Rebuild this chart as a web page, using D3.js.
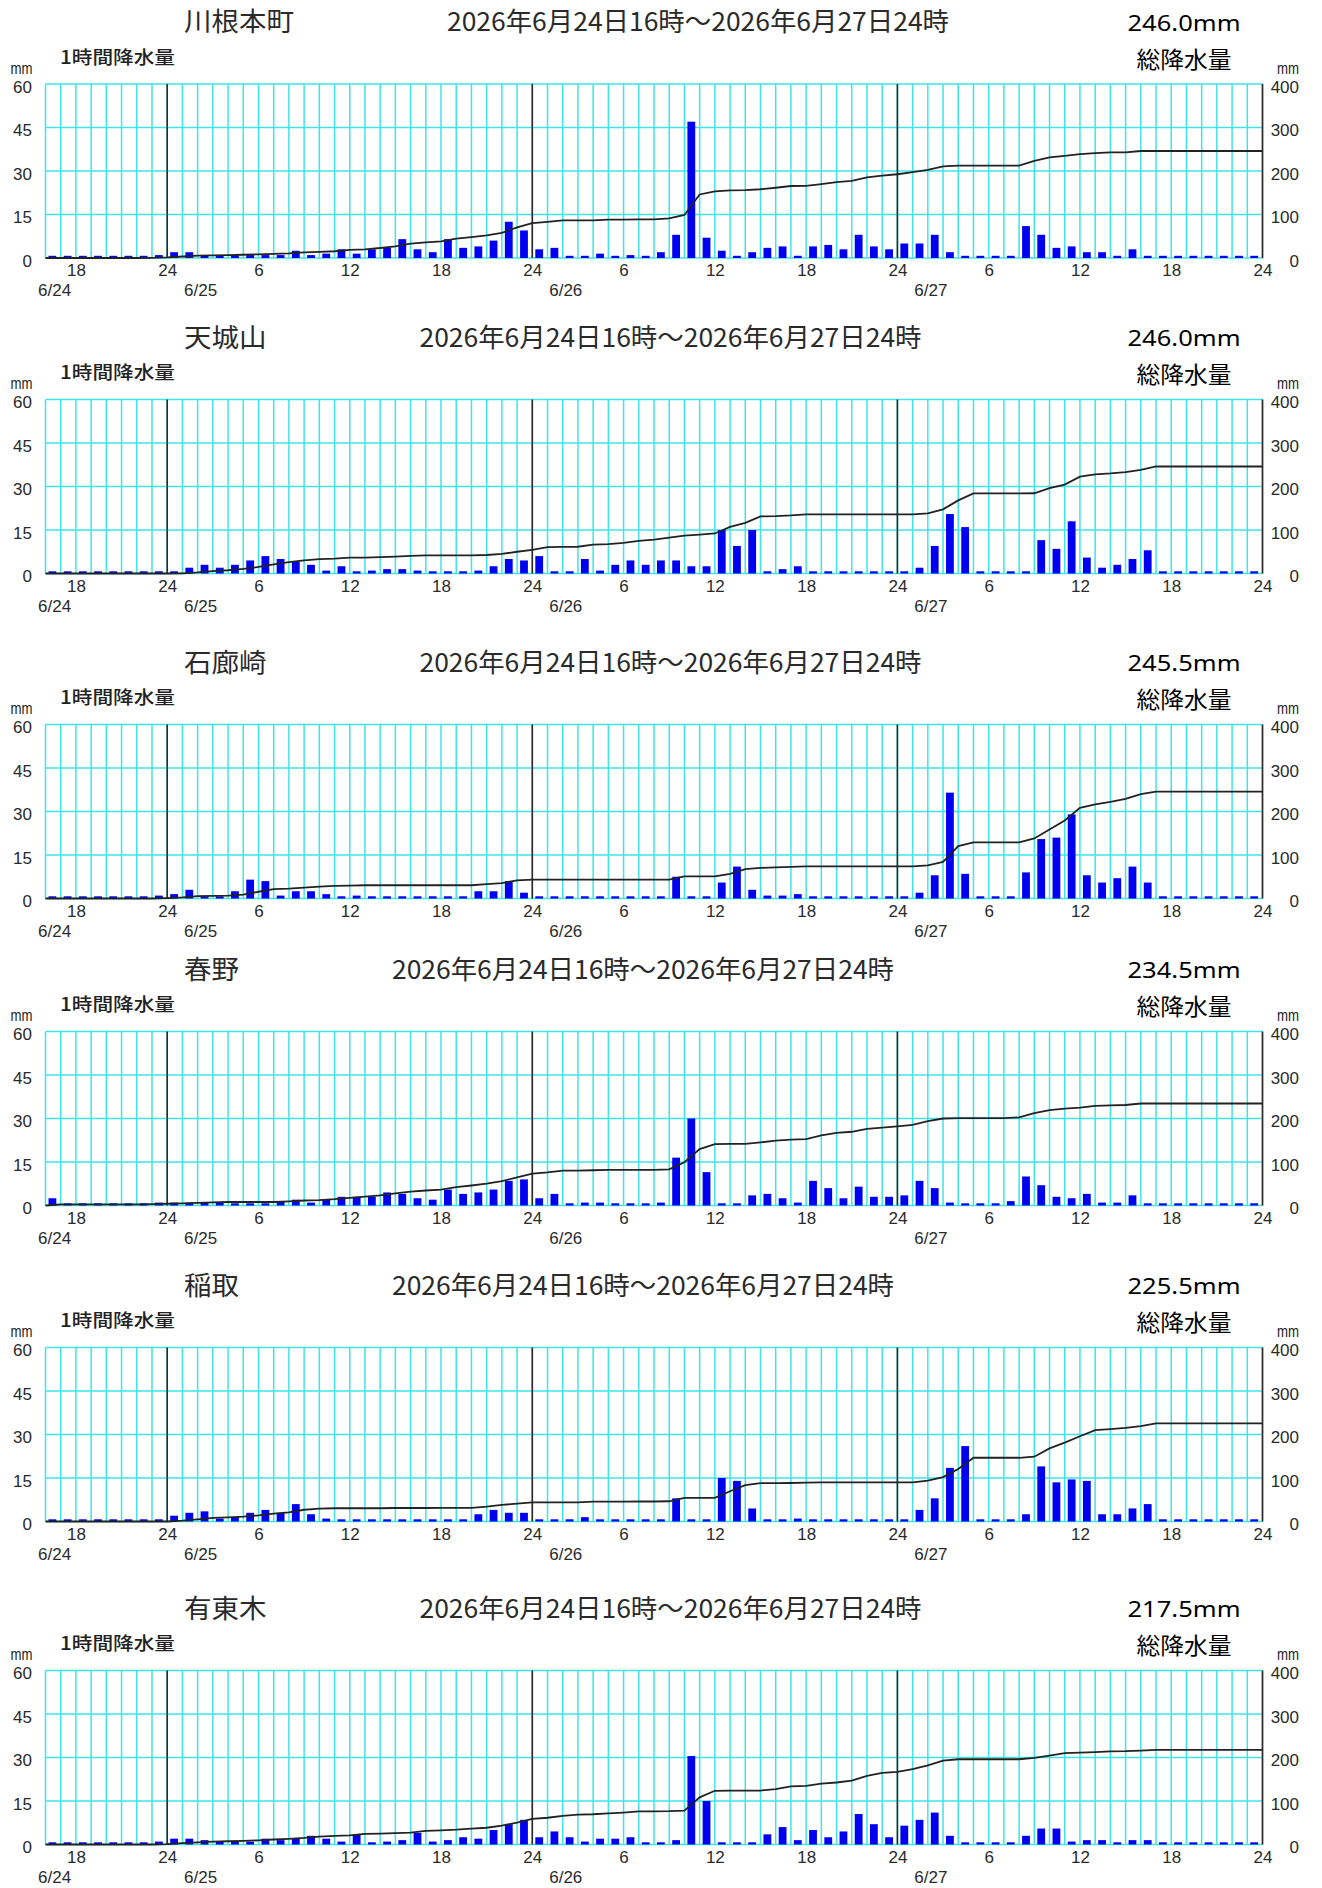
<!DOCTYPE html>
<html lang="ja">
<head>
<meta charset="utf-8">
<script src="https://cdn.jsdelivr.net/npm/d3@7"></script>
<style>
  body { margin: 0; background: #fff; }
  svg { display: block; }
</style>
</head>
<body>
<div id="chart"></div>
<script>
const width = 1322
const height = 1888

// DATA
const stations = ["川根本町", "天城山", "石廊崎", "春野", "稲取", "有東木"]
const totals = ["246.0mm", "246.0mm", "245.5mm", "234.5mm", "225.5mm", "217.5mm"]
const period = "2026年6月24日16時～2026年6月27日24時"
const hourTicks = [2, 8, 14, 20, 26, 32, 38, 44, 50, 56, 62, 68, 74, 80]
const hourLabels = ["18", "24", "6", "12", "18", "24", "6", "12", "18", "24", "6", "12", "18", "24"]
const dayBreaks = [8, 32, 56]
const dateLabels = ["6/24", "6/25", "6/26", "6/27"]
const datePos = [0.6, 10.2, 34.2, 58.2]
const leftTicks = [0, 15, 30, 45, 60]
const rightTicks = [0, 100, 200, 300, 400]

// hourly rain in mm, one value per hour from 6/24 16-17h to 6/27 23-24h
const kawanehoncho = [
  0, 0, 0, 0, 0, 0, 0.5, 1,
  2, 2, 0.5, 0.5, 1, 1, 1, 1,
  2.5, 1, 1.5, 3, 1.5, 3, 3.5, 6.5,
  3, 2, 6.5, 3.5, 4, 6, 12.5, 9.5,
  3, 3.5, 0, 0, 1.5, 0, 1, 0,
  2, 8, 47, 7, 2.5, 0.5, 2, 3.5,
  4, 0.5, 4, 4.5, 3, 8, 4, 3,
  5, 5, 8, 2, 0, 0, 0, 0,
  11, 8, 3.5, 4, 2, 2, 0, 3,
  0, 0, 0, 0, 0, 0, 0, 0
]
const amagisan = [
  0, 0, 0, 0, 0, 0, 0, 0,
  0.5, 2, 3, 2, 3, 4.5, 6, 5,
  4, 3, 1, 2.5, 0, 1, 1.5, 1.5,
  1, 0, 0, 0, 1, 2.5, 5, 4.5,
  6, 0.5, 0.5, 5, 1, 3, 4.5, 3,
  4.5, 4.5, 2.5, 2.5, 15, 9.5, 15, 0.5,
  1.5, 2.5, 0, 0, 0, 0, 0, 0,
  0, 2, 9.5, 20.5, 16, 0, 0, 0,
  0.5, 11.5, 8.5, 18, 5.5, 2, 3, 5,
  8, 0, 0, 0, 0, 0, 0, 0
]
const irozaki = [
  0, 0, 0, 0, 0, 0, 0, 1,
  1.5, 3, 0.5, 0.5, 2.5, 6.5, 6, 1,
  2.5, 2.5, 1.5, 0.5, 1, 0, 0, 0,
  0, 0, 0, 0, 2.5, 2.5, 6, 2,
  0, 0, 0, 0, 0, 0, 0, 0,
  0, 7.5, 0, 0, 5.5, 11, 3, 1,
  1, 1.5, 0, 0, 0, 0, 0, 0,
  0, 2, 8, 36.5, 8.5, 0, 0, 0,
  9, 20.5, 21, 29, 8, 5.5, 7, 11,
  5.5, 0, 0, 0, 0, 0, 0, 0
]
const haruno = [
  2.5, 0, 0, 0, 0, 0, 0.5, 1,
  1, 1, 1, 1, 0, 0, 0, 1.5,
  2, 1, 2, 3, 3, 3, 4.5, 4,
  2.5, 2, 5.5, 4, 4.5, 5.5, 8.5, 9,
  2.5, 4, 0, 1, 1, 0, 0, 0,
  1, 16.5, 30, 11.5, 0.5, 0, 3.5, 4,
  2.5, 1, 8.5, 6, 2.5, 6.5, 3, 3,
  3.5, 8.5, 6, 1, 0, 0, 0, 1.5,
  10, 7, 3, 2.5, 4, 1, 1, 3.5,
  0, 0, 0, 0, 0, 0, 0, 0
]
const inatori = [
  0, 0, 0, 0, 0, 0, 0, 0,
  2, 3, 3.5, 1, 1.5, 3, 4, 3,
  6, 2.5, 1, 0, 0, 0, 0.5, 0,
  0, 0.5, 0, 0, 2.5, 4, 3, 3,
  0, 0, 0, 1.5, 0, 0, 0.5, 0,
  0.5, 8, 0, 0, 15, 14, 4.5, 0,
  0.5, 1, 0.5, 0, 0, 0, 0, 0,
  0, 4, 8, 18.5, 26, 0, 0, 0,
  2.5, 19, 13.5, 14.5, 14, 2.5, 2.5, 4.5,
  6, 0, 0, 0, 0, 0, 0, 0
]
const utougi = [
  0, 0, 0, 0, 0, 0, 0, 1,
  2, 2, 1.5, 1, 1, 1, 2, 1.5,
  2, 3, 2, 1, 3.5, 0.5, 1, 1.5,
  4, 1, 1.5, 2.5, 2, 5, 7, 8.5,
  2.5, 4.5, 2.5, 1, 2, 2, 2.5, 0,
  0.5, 1.5, 30.5, 15, 0.5, 0, 0, 3.5,
  6, 1.5, 5, 2.5, 4.5, 10.5, 7, 2.5,
  6.5, 8.5, 11, 3, 0, 0, 0, 0,
  3, 5.5, 5.5, 1, 1.5, 1.5, 0.5, 1.5,
  1.5, 0, 0, 0, 0, 0, 0, 0
]
const series = [kawanehoncho, amagisan, irozaki, haruno, inatori, utougi]

// LAYOUT
const plotLeft = 45.5
const plotRight = 1262.5
const plotH = 174
const panelTops = [84, 399.5, 724.5, 1031.5, 1347.5, 1670.5]
const charW = 27.5

const gridColor = "#3fe4e8"
const barColor = "#0000f0"
const jpFont = "'Noto Sans CJK JP', 'Noto Sans', sans-serif"
const axisFont = "'Liberation Sans', Arial, sans-serif"

const svg = d3
  .select("#chart")
  .append("svg")
  .attr("width", width)
  .attr("height", height)
  .attr("viewBox", [0, 0, width, height])

svg.append("rect").attr("width", width).attr("height", height).attr("fill", "#fff")

const xScale = d3.scaleLinear().domain([0, 80]).range([plotLeft, plotRight])

series.forEach((values, k) => {
  const top = panelTops[k]
  const base = top + plotH
  const g = svg.append("g").attr("class", "panel")

  const yLeft = d3.scaleLinear().domain([0, 60]).range([base, top])
  const yRight = d3.scaleLinear().domain([0, 400]).range([base, top])

  // HEADER
  const nameW = stations[k].length * charW
  g.append("text")
    .attr("x", 184)
    .attr("y", top - 53)
    .attr("textLength", nameW)
    .attr("lengthAdjust", "spacingAndGlyphs")
    .style("font-family", jpFont)
    .style("font-size", "26px")
    .style("fill", "#2a2a2a")
    .text(stations[k])

  g.append("text")
    .attr("x", 184 + nameW + 153)
    .attr("y", top - 53)
    .attr("textLength", 502)
    .attr("lengthAdjust", "spacingAndGlyphs")
    .style("font-family", jpFont)
    .style("font-size", "26px")
    .style("fill", "#2a2a2a")
    .text(period)

  g.append("text")
    .attr("x", 1184)
    .attr("y", top - 53.5)
    .attr("text-anchor", "middle")
    .attr("textLength", 113)
    .attr("lengthAdjust", "spacingAndGlyphs")
    .style("font-family", "'Noto Sans', 'Open Sans', sans-serif")
    .style("font-size", "22px")
    .style("fill", "#000")
    .text(totals[k])

  g.append("text")
    .attr("x", 1184)
    .attr("y", top - 16.5)
    .attr("text-anchor", "middle")
    .attr("textLength", 95)
    .attr("lengthAdjust", "spacingAndGlyphs")
    .style("font-family", jpFont)
    .style("font-size", "23px")
    .style("fill", "#000")
    .text("総降水量")

  g.append("text")
    .attr("x", 60)
    .attr("y", top - 20.5)
    .attr("textLength", 115)
    .attr("lengthAdjust", "spacingAndGlyphs")
    .style("font-family", jpFont)
    .style("font-size", "18px")
    .style("font-weight", "500")
    .style("fill", "#222")
    .text("1時間降水量")

  ;[10.5, 1277].forEach((mx) => {
    g.append("text")
      .attr("x", mx)
      .attr("y", top - 10.5)
      .attr("textLength", 22)
      .attr("lengthAdjust", "spacingAndGlyphs")
      .style("font-family", axisFont)
      .style("font-size", "16px")
      .style("fill", "#222")
      .text("mm")
  })

  // GRID
  g.append("g")
    .selectAll("line")
    .data(d3.range(0, 81))
    .join("line")
    .attr("x1", (d) => xScale(d))
    .attr("x2", (d) => xScale(d))
    .attr("y1", yLeft(60))
    .attr("y2", yLeft(0))
    .attr("stroke", gridColor)
    .attr("stroke-width", 1.5)

  g.append("g")
    .selectAll("line")
    .data(leftTicks)
    .join("line")
    .attr("x1", plotLeft)
    .attr("x2", plotRight)
    .attr("y1", (d) => yLeft(d))
    .attr("y2", (d) => yLeft(d))
    .attr("stroke", gridColor)
    .attr("stroke-width", 1.5)

  // day boundaries + right axis
  g.append("g")
    .selectAll("line")
    .data(dayBreaks.concat([80]))
    .join("line")
    .attr("x1", (d) => xScale(d))
    .attr("x2", (d) => xScale(d))
    .attr("y1", yLeft(60))
    .attr("y2", yLeft(0))
    .attr("stroke", "#2a2a2a")
    .attr("stroke-width", 1.6)

  // BARS
  g.append("g")
    .selectAll("rect")
    .data(values)
    .join("rect")
    .attr("x", (d, i) => xScale(i) + 3)
    .attr("width", 7.8)
    .attr("y", (d) => Math.min(yLeft(d), base - 2.2))
    .attr("height", (d) => Math.max(2.2, base - yLeft(d)))
    .attr("fill", barColor)

  // CUMULATIVE LINE
  const cum = d3.cumsum(values)
  const linePoints = [[0, 0]].concat(Array.from(cum, (c, i) => [i + 1, c]))
  g.append("path")
    .datum(linePoints)
    .attr("fill", "none")
    .attr("stroke", "#222")
    .attr("stroke-width", 1.8)
    .attr("d", d3.line().x((d) => xScale(d[0])).y((d) => yRight(d[1])))

  // AXES
  const xAxis = g
    .append("g")
    .attr("transform", `translate(0, ${base + 6})`)
    .call(
      d3.axisBottom(xScale)
        .tickValues(hourTicks)
        .tickFormat((d, i) => hourLabels[i])
        .tickSize(0)
        .tickPadding(0)
    )
  xAxis.select(".domain").remove()
  xAxis.attr("font-family", axisFont).attr("font-size", 17)
  xAxis.selectAll("text").attr("fill", "#2a2a2a")

  g.append("g")
    .selectAll("text")
    .data(dateLabels)
    .join("text")
    .attr("x", (d, i) => xScale(datePos[i]))
    .attr("y", base + 38)
    .attr("text-anchor", "middle")
    .style("font-family", axisFont)
    .style("font-size", "17px")
    .style("fill", "#2a2a2a")
    .text((d) => d)

  const yAxisL = g
    .append("g")
    .attr("transform", "translate(32, 3)")
    .call(d3.axisLeft(yLeft).tickValues(leftTicks).tickSize(0).tickPadding(0))
  yAxisL.select(".domain").remove()
  yAxisL.attr("font-family", axisFont).attr("font-size", 17)
  yAxisL.selectAll("text").attr("fill", "#2a2a2a")

  const yAxisR = g
    .append("g")
    .attr("transform", "translate(1299, 3)")
    .call(d3.axisRight(yRight).tickValues(rightTicks).tickSize(0).tickPadding(0))
  yAxisR.select(".domain").remove()
  yAxisR.attr("font-family", axisFont).attr("font-size", 17).attr("text-anchor", "end")
  yAxisR.selectAll("text").attr("fill", "#2a2a2a").attr("x", 0)
})
</script>
</body>
</html>
